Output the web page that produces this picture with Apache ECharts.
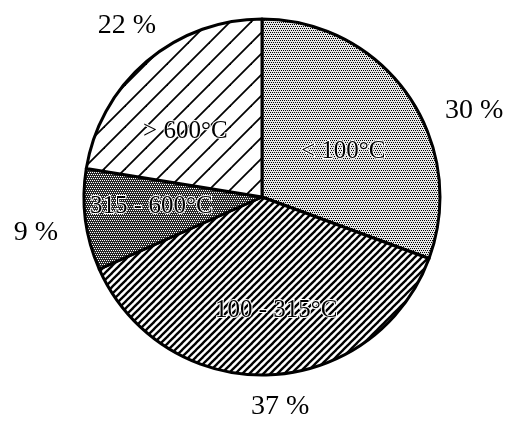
<!DOCTYPE html>
<html>
<head>
<meta charset="utf-8">
<script src="https://cdn.jsdelivr.net/npm/echarts@6/dist/echarts.min.js"></script>
<style>
  html, body { margin: 0; padding: 0; background: #fff; }
  #chart { width: 510px; height: 421px; }
</style>
</head>
<body>
<div id="chart"></div>
<script>
// Temperature ranges and their shares (percent)
const categories = ['< 100°C', '100 - 315°C', '315 - 600°C', '> 600°C'];
const shares = [30, 37, 9, 22];
const shareLabels = ['30 %', '37 %', '9 %', '22 %'];

// Pie geometry
const CX = 262, CY = 197, R = 178;

// Label placement relative to each slice's middle angle: [angle offset in degrees, distance from centre]
const innerPlacement = [[5.8, 93], [-5.3, 114], [2.7, 111], [-9, 101]];
const outerPlacement = [[12.8, 229], [-3.1, 210], [-1.7, 229], [2.1, 218]];

// --- fill textures -------------------------------------------------------
function tile(size, draw) {
  const c = document.createElement('canvas');
  c.width = size; c.height = size;
  const g = c.getContext('2d');
  g.fillStyle = '#fff';
  g.fillRect(0, 0, size, size);
  draw(g, size);
  return c;
}
function dots(size, pts, bg, fg) {
  return tile(size, function (g) {
    g.fillStyle = bg; g.fillRect(0, 0, size, size);
    g.fillStyle = fg;
    pts.forEach(function (p) { g.fillRect(p[0], p[1], 1, 1); });
  });
}
function hatch(size, width) {
  return tile(size, function (g, s) {
    g.strokeStyle = '#000';
    g.lineWidth = width;
    g.lineCap = 'square';
    [[-s, 0], [0, 0], [s, 0]].forEach(function (o) {
      g.beginPath();
      g.moveTo(o[0] - 1, s + 1);
      g.lineTo(o[0] + s + 1, -1);
      g.stroke();
    });
  });
}
const diamond = [[0, 0], [2, 0], [1, 2], [3, 2]];
// light stipple: black dots on pale grey; dark stipple: white dots on near-black
const lightStipple = dots(4, diamond, '#e6e6e6', '#000');
const darkStipple = dots(4, diamond, '#262626', '#fff');
const fineHatch = hatch(7, 2.3);
const wideHatch = hatch(21, 1.8);
const fills = [lightStipple, fineHatch, darkStipple, wideHatch];

// --- label placement -----------------------------------------------------
const total = shares.reduce(function (a, b) { return a + b; }, 0);
const midAngles = [];
(function () {
  let acc = 0;
  shares.forEach(function (v) {
    midAngles.push((acc + v / 2) / total * 360);
    acc += v;
  });
})();
function placeAt(placement) {
  return function (params) {
    const i = params.dataIndex;
    const a = (midAngles[i] + placement[i][0]) * Math.PI / 180;
    const d = placement[i][1];
    return {
      x: CX + d * Math.sin(a),
      y: CY - d * Math.cos(a),
      align: 'center',
      verticalAlign: 'middle'
    };
  };
}

const font = '"Liberation Serif", "Times New Roman", serif';

const chart = echarts.init(document.getElementById('chart'), null, { renderer: 'canvas' });
chart.setOption({
  backgroundColor: '#fff',
  animation: false,
  series: [
    {
      type: 'pie',
      center: [CX, CY],
      radius: [0, R],
      startAngle: 90,
      clockwise: true,
      silent: true,
      data: categories.map(function (name, i) {
        return {
          name: name,
          value: shares[i],
          itemStyle: { color: { image: fills[i], repeat: 'repeat' } }
        };
      }),
      itemStyle: { borderColor: '#000', borderWidth: 3 },
      label: {
        show: true,
        position: 'inside',
        formatter: '{b}',
        color: '#000',
        fontFamily: font,
        fontSize: 25,
        textBorderColor: '#fff',
        textBorderWidth: 2
      },
      labelLine: { show: false },
      labelLayout: placeAt(innerPlacement)
    },
    {
      type: 'pie',
      center: [CX, CY],
      radius: [0, R],
      startAngle: 90,
      clockwise: true,
      silent: true,
      z: 1,
      data: categories.map(function (name, i) {
        return { name: name, value: shares[i] };
      }),
      itemStyle: { color: 'rgba(0,0,0,0)', borderWidth: 0 },
      label: {
        show: true,
        position: 'inside',
        formatter: function (p) { return shareLabels[p.dataIndex]; },
        color: '#000',
        fontFamily: font,
        fontSize: 28
      },
      labelLine: { show: false },
      labelLayout: placeAt(outerPlacement)
    }
  ]
});
</script>
</body>
</html>
